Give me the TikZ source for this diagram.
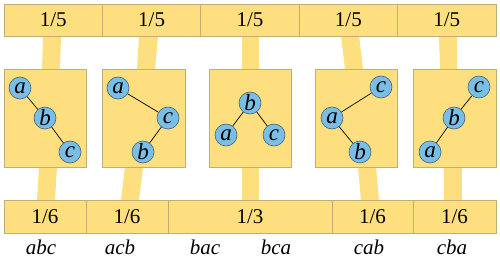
\documentclass[tikz,border=0pt]{standalone}
\usepackage{fontspec}
\setmainfont{Liberation Serif}
\newfontfamily\tms{Liberation Serif}
\definecolor{yel}{HTML}{FDDF7F}
\definecolor{yelborder}{HTML}{C2AE72}
\definecolor{nodeblue}{HTML}{78BEE6}
\definecolor{nodeborder}{HTML}{4A5F72}
\tikzset{
  cell/.style={draw=yelborder, fill=yel, line width=0.7pt, minimum height=32pt, inner sep=0pt, font=\tms\fontsize{21}{25}\selectfont},
  treebox/.style={draw=yelborder, fill=yel, line width=0.7pt, minimum height=98pt, inner sep=0pt},
  band/.style={fill=yel, draw=none},
  vert/.style={circle, draw=nodeborder, fill=nodeblue, line width=0.6pt, minimum size=22pt, inner sep=0pt, font=\tms\fontsize{23}{26}\selectfont\itshape},
  edge/.style={draw=black, line width=0.7pt},
  perm/.style={font=\tms\fontsize{21}{25}\selectfont\itshape, inner sep=0pt}
}
\begin{document}
\begin{tikzpicture}[x=1pt,y=-1pt]
\useasboundingbox (0,0) rectangle (500,259);
% bands top
\fill[band] (43,36) -- (61,36) -- (60,69) -- (42,69) -- cycle;
\fill[band] (139,36) -- (158,36) -- (155,69) -- (137,69) -- cycle;
\fill[band] (242,36) -- (259,36) -- (259,69) -- (242,69) -- cycle;
\fill[band] (341,36) -- (359,36) -- (363,69) -- (345,69) -- cycle;
\fill[band] (439,36) -- (457,36) -- (457,69) -- (440,69) -- cycle;
% bands bottom
\fill[band] (39,167) -- (57,167) -- (55,200) -- (37,200) -- cycle;
\fill[band] (125,167) -- (143,167) -- (139,200) -- (121,200) -- cycle;
\fill[band] (242,167) -- (259,167) -- (259,200) -- (242,200) -- cycle;
\fill[band] (358,167) -- (376,167) -- (379,200) -- (361,200) -- cycle;
\fill[band] (444,167) -- (462,167) -- (462,200) -- (444,200) -- cycle;
% top bar
\node[cell, minimum width=98.4pt] (t1) at (53.2,20) {1/5};
\node[cell, minimum width=98.4pt] (t2) at (151.6,20) {1/5};
\node[cell, minimum width=98.4pt] (t3) at (250,20) {1/5};
\node[cell, minimum width=98.4pt] (t4) at (348.4,20) {1/5};
\node[cell, minimum width=98.4pt] (t5) at (446.8,20) {1/5};
% bottom bar
\node[cell, minimum width=82pt, minimum height=33pt] (b1) at (45,216.5) {1/6};
\node[cell, minimum width=82pt, minimum height=33pt] (b2) at (127,216.5) {1/6};
\node[cell, minimum width=164pt, minimum height=33pt] (b3) at (250,216.5) {1/3};
\node[cell, minimum width=81pt, minimum height=33pt] (b4) at (372.5,216.5) {1/6};
\node[cell, minimum width=83pt, minimum height=33pt] (b5) at (454.5,216.5) {1/6};
% tree boxes
\node[treebox, minimum width=82pt] (x1) at (45,118) {};
\node[treebox, minimum width=83pt] (x2) at (143.5,118) {};
\node[treebox, minimum width=82pt] (x3) at (250,118) {};
\node[treebox, minimum width=82pt] (x4) at (356,118) {};
\node[treebox, minimum width=83pt] (x5) at (454.5,118) {};
% tree 1
\node[vert] (a1) at (20,88) {a};
\node[vert] (bb1) at (45,118) {b};
\node[vert] (c1) at (70,152) {c};
\draw[edge] (a1) -- (bb1) (bb1) -- (c1);
% tree 2
\node[vert] (a2) at (118,88) {a};
\node[vert] (c2) at (168,118) {c};
\node[vert] (bb2) at (143,152) {b};
\draw[edge] (a2) -- (c2) (c2) -- (bb2);
% tree 3
\node[vert] (bb3) at (250,103) {b};
\node[vert] (a3) at (226,135) {a};
\node[vert] (c3) at (274,135) {c};
\draw[edge] (bb3) -- (a3) (bb3) -- (c3);
% tree 4
\node[vert] (c4) at (381,87) {c};
\node[vert] (a4) at (332,118) {a};
\node[vert] (bb4) at (360,152) {b};
\draw[edge] (c4) -- (a4) (a4) -- (bb4);
% tree 5
\node[vert] (c5) at (479,87) {c};
\node[vert] (bb5) at (454,118) {b};
\node[vert] (a5) at (430,152) {a};
\draw[edge] (c5) -- (bb5) (bb5) -- (a5);
% permutation labels
\node[perm] (p1) at (41,247) {abc};
\node[perm] (p2) at (120,247) {acb};
\node[perm] (p3) at (205,247) {bac};
\node[perm] (p4) at (276,247) {bca};
\node[perm] (p5) at (369,247) {cab};
\node[perm] (p6) at (452,247) {cba};
\end{tikzpicture}
\end{document}
